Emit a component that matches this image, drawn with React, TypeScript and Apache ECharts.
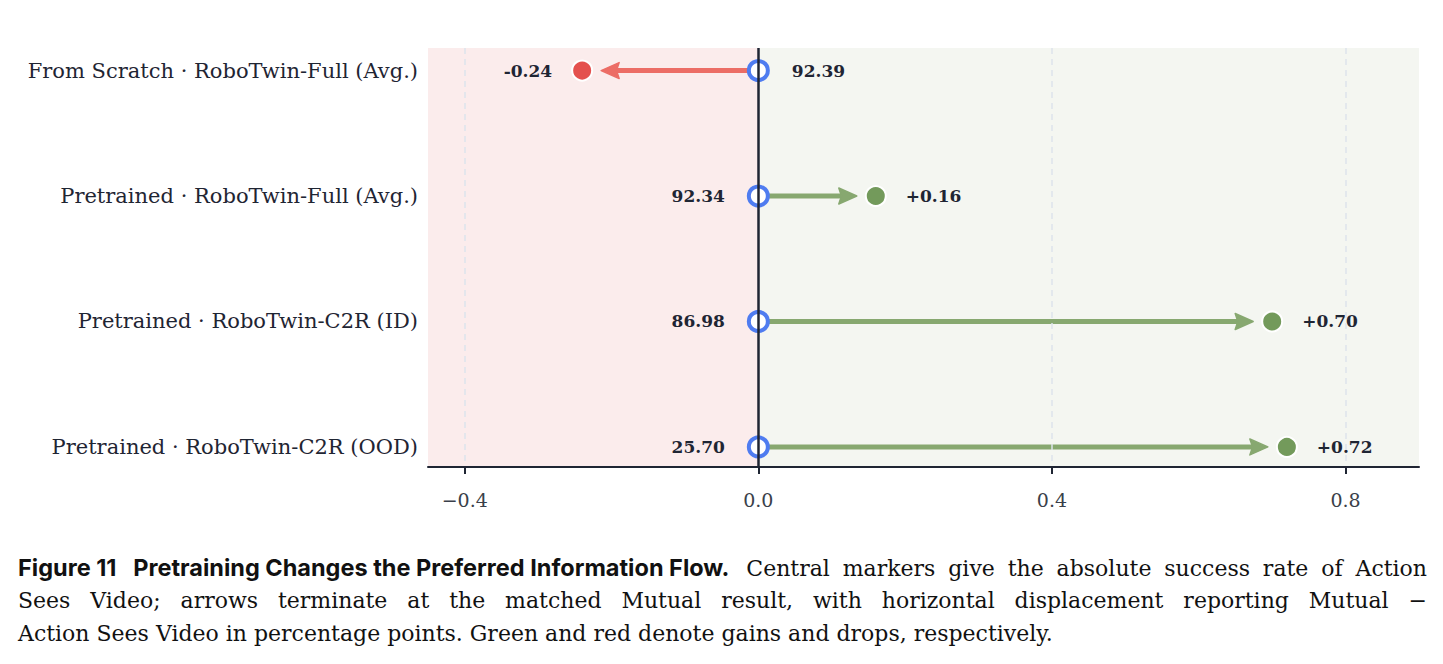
import { useEffect, useRef } from "react"
import * as echarts from "echarts"

const categories = [
  "From Scratch · RoboTwin-Full (Avg.)",
  "Pretrained · RoboTwin-Full (Avg.)",
  "Pretrained · RoboTwin-C2R (ID)",
  "Pretrained · RoboTwin-C2R (OOD)",
]
const baseScores = [92.39, 92.34, 86.98, 25.7]
const deltas = [-0.24, 0.16, 0.7, 0.72]
const xTicks = [-0.4, 0, 0.4, 0.8]
const gridLines = [-0.4, 0.4, 0.8]

const SERIF = "'DejaVu Serif', 'Liberation Serif', serif"
const INK = "#1f2533"
const RED_DOT = "#e4514e"
const RED_ARROW = "#ec6d66"
const GREEN_DOT = "#739a5b"
const GREEN_ARROW = "#87a870"
const BLUE = "#4f7cf0"

function Chart() {
  const chartRef = useRef<HTMLDivElement>(null)

  useEffect(() => {
    if (!chartRef.current) return
    const chart = echarts.init(chartRef.current, null, { renderer: "svg" })

    const arrowData = deltas.map((d, i) => [d, i])

    const option = {
      animation: false,
      grid: { left: 420, right: 16, top: 40, bottom: 61 },
      xAxis: {
        type: "value",
        min: -0.45,
        max: 0.9,
        z: 5,
        axisLine: { show: true, onZero: false, lineStyle: { color: INK, width: 2 } },
        axisTick: { show: true, customValues: xTicks, length: 7, lineStyle: { color: INK, width: 2 } },
        axisLabel: {
          customValues: xTicks,
          margin: 23,
          fontFamily: SERIF,
          fontSize: 19,
          color: "#3a3f4a",
          formatter: (v: number) => v.toFixed(1).replace("-", "−"),
        },
        splitLine: { show: false },
      },
      yAxis: {
        type: "value",
        inverse: true,
        min: -0.18,
        max: 3.16,
        axisLine: { show: false, onZero: false },
        axisTick: { show: false },
        splitLine: { show: false },
        axisLabel: {
          customValues: [0, 1, 2, 3],
          margin: 10,
          fontFamily: SERIF,
          fontSize: 21,
          color: INK,
          formatter: (v: number) => categories[Math.round(v)] ?? "",
        },
      },
      series: [
        {
          type: "line",
          data: [],
          z: 0,
          silent: true,
          symbol: "none",
          markArea: {
            silent: true,
            label: { show: false },
            data: [
              [{ xAxis: -0.45, itemStyle: { color: "#fbecec" } }, { xAxis: 0 }],
              [{ xAxis: 0, itemStyle: { color: "#f4f6f1" } }, { xAxis: 0.9 }],
            ],
          },
          markLine: {
            silent: true,
            symbol: "none",
            label: { show: false },
            data: [
              ...gridLines.map((x) => ({
                xAxis: x,
                lineStyle: { color: "#dde3ec", width: 1.5, type: [6, 5] },
              })),
              { xAxis: 0, lineStyle: { color: INK, width: 2.5, type: "solid" } },
            ],
          },
        },
        {
          type: "custom",
          z: 2,
          silent: true,
          data: arrowData,
          renderItem: (params: any, api: any) => {
            const d = api.value(0)
            const row = api.value(1)
            const start = api.coord([0, row])
            const end = api.coord([d, row])
            const dir = d >= 0 ? 1 : -1
            const color = d >= 0 ? GREEN_ARROW : RED_ARROW
            const tip = end[0] - dir * 19
            const headLen = 18
            const half = 8
            const y = start[1]
            return {
              type: "group",
              children: [
                {
                  type: "line",
                  shape: { x1: start[0], y1: y, x2: tip - dir * headLen * 0.7, y2: y },
                  style: { stroke: color, lineWidth: 5, lineCap: "round" },
                },
                {
                  type: "polygon",
                  shape: {
                    points: [
                      [tip, y],
                      [tip - dir * headLen, y - half],
                      [tip - dir * headLen * 0.85, y],
                      [tip - dir * headLen, y + half],
                    ],
                  },
                  style: { fill: color, stroke: color, lineWidth: 1.5, lineJoin: "round" },
                },
              ],
            }
          },
        },
        {
          type: "scatter",
          z: 3,
          symbol: "circle",
          symbolSize: 19,
          itemStyle: { color: "#ffffff", borderColor: BLUE, borderWidth: 4, opacity: 1 },
          data: baseScores.map((s, i) => ({
            value: [0, i],
            label: {
              show: true,
              position: deltas[i] < 0 ? "right" : "left",
              distance: 22,
              formatter: s.toFixed(2),
            },
          })),
          label: {
            fontFamily: SERIF,
            fontWeight: "bold",
            fontSize: 17,
            color: INK,
          },
        },
        {
          type: "scatter",
          z: 3,
          symbol: "circle",
          symbolSize: 20,
          data: deltas.map((d, i) => ({
            value: [d, i],
            itemStyle: {
              color: d >= 0 ? GREEN_DOT : RED_DOT,
              borderColor: "#ffffff",
              borderWidth: 2,
              opacity: 1,
            },
            label: {
              show: true,
              position: d >= 0 ? "right" : "left",
              distance: 19,
              formatter: (d > 0 ? "+" : "") + d.toFixed(2),
            },
          })),
          label: {
            fontFamily: SERIF,
            fontWeight: "bold",
            fontSize: 17,
            color: INK,
          },
        },
      ],
    }

    chart.setOption(option)
    return () => {
      chart.dispose()
    }
  }, [])

  return <div ref={chartRef} style={{ position: "absolute", left: 0, top: 0, width: 1427, height: 520 }} />
}

const captionLine: React.CSSProperties = {
  textAlign: "justify",
  textAlignLast: "justify",
  height: 33,
  lineHeight: "33px",
  whiteSpace: "normal",
}

export default function App() {
  return (
    <div style={{ position: "relative", width: 1427, height: 640 }}>
      <Chart />
      <div
        style={{
          position: "absolute",
          left: 10,
          top: 543,
          width: 1409,
          fontFamily: "'DejaVu Serif', serif",
          fontSize: 22,
          color: "#111",
        }}
      >
        <div style={captionLine}>
          <span
            style={{
              display: "inline-block",
              whiteSpace: "nowrap",
              fontFamily: "Inter, 'Liberation Sans', sans-serif",
              fontWeight: 700,
              fontSize: 23.5,
              marginRight: 4,
            }}
          >
            Figure 11&nbsp;&nbsp; Pretraining Changes the Preferred Information Flow.
          </span>{" "}
          Central markers give the absolute success rate of Action
        </div>
        <div style={captionLine}>
          Sees Video; arrows terminate at the matched Mutual result, with horizontal displacement reporting Mutual −
        </div>
        <div style={{ height: 33, lineHeight: "33px" }}>
          Action Sees Video in percentage points. Green and red denote gains and drops, respectively.
        </div>
      </div>
    </div>
  )
}
